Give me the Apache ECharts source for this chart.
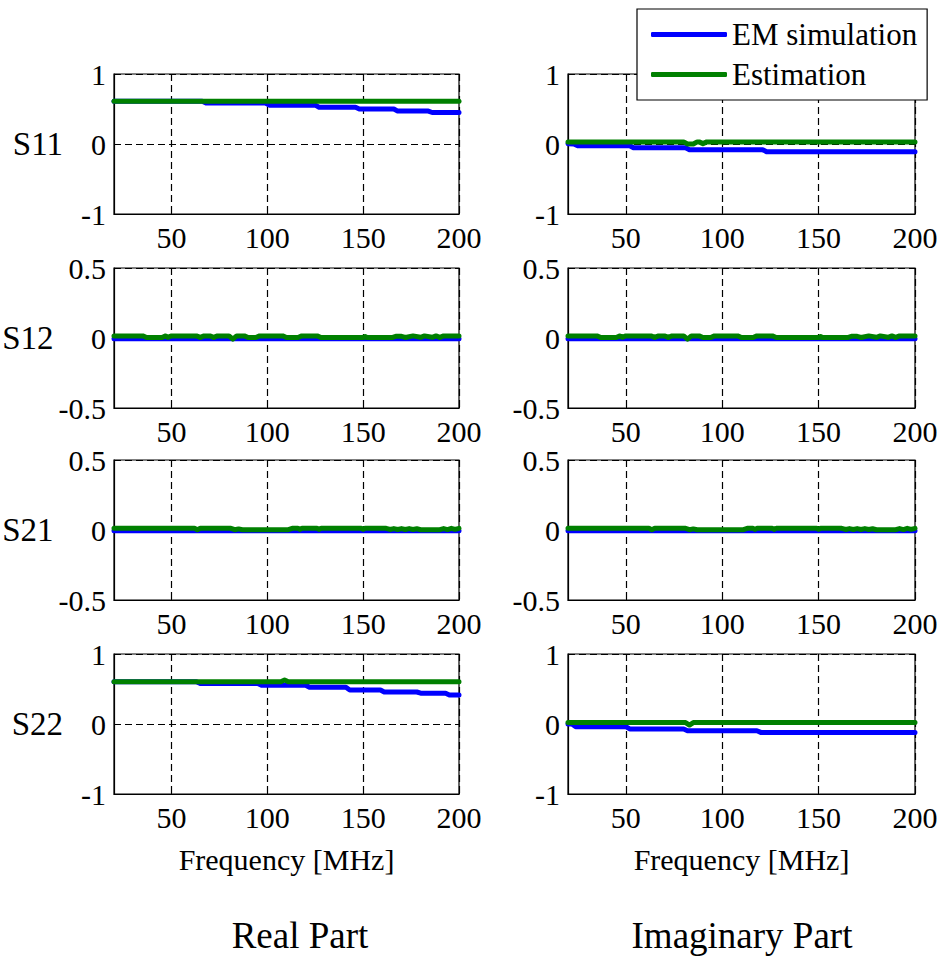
<!DOCTYPE html>
<html>
<head>
<meta charset="utf-8">
<script src="https://cdn.jsdelivr.net/npm/echarts@6/dist/echarts.min.js"></script>
<style>html,body{margin:0;padding:0;background:#fff}#c{width:943px;height:956px}</style>
</head>
<body>
<div id="c"></div>
<script>
// ---- data (frequency [MHz], value) ----
const freqTicks = [50, 100, 150, 200];
const rowLabels = ['S11', 'S12', 'S21', 'S22'];
const colTitles = ['Real Part', 'Imaginary Part'];
const seriesNames = ['EM simulation', 'Estimation'];

const s11ReEM = [[20,0.61],[66,0.61],[68,0.585],[99,0.585],[101,0.555],[125,0.555],[127,0.525],[146,0.525],[148,0.5],[166,0.5],[168,0.47],[184,0.47],[186,0.45],[200,0.45]];
const s11ReEst = [[20,0.61],[200,0.61]];
const s11ImEM = [[20,0.005],[23,0.0],[25,-0.024],[52,-0.024],[54,-0.053],[81,-0.053],[83,-0.081],[121,-0.081],[123,-0.11],[200,-0.11]];
const s11ImEst = [[20,0.03],[80,0.03],[82,0.0],[85,0.0],[87,0.03],[88,0.03],[90,0.005],[92,0.03],[200,0.03]];

const s12ReEM = [[20,-0.006],[200,-0.006]];
const s12ReEst = [[20,0.015],[35,0.015],[37,0.003],[45,0.003],[47,0.015],[48,0.005],[50,0.015],[63,0.015],[65,0.004],[67,0.015],[70,0.015],[72,0.004],[74,0.015],[80,0.015],[82,-0.008],[84,0.015],[88,0.015],[90,0.003],[94,0.003],[96,0.015],[108,0.015],[110,0.003],[116,0.003],[118,0.015],[126,0.015],[128,0.003],[150,0.003],[151,0.01],[152,0.003],[165,0.003],[167,0.012],[170,0.012],[172,0.004],[176,0.015],[180,0.005],[182,0.015],[186,0.005],[188,0.015],[190,0.004],[192,0.015],[200,0.015]];
const s12ImEM = [[20,-0.006],[200,-0.006]];
const s12ImEst = [[20,0.015],[35,0.015],[37,0.003],[45,0.003],[47,0.015],[48,0.005],[50,0.015],[63,0.015],[65,0.004],[67,0.015],[70,0.015],[72,0.004],[74,0.015],[80,0.015],[82,-0.008],[84,0.015],[88,0.015],[90,0.003],[94,0.003],[96,0.015],[108,0.015],[110,0.003],[116,0.003],[118,0.015],[126,0.015],[128,0.003],[150,0.003],[151,0.01],[152,0.003],[165,0.003],[167,0.012],[170,0.012],[172,0.004],[176,0.015],[180,0.005],[182,0.015],[186,0.005],[188,0.015],[190,0.004],[192,0.015],[200,0.015]];

const s21ReEM = [[20,-0.006],[200,-0.006]];
const s21ReEst = [[20,0.012],[62,0.012],[63.5,0.002],[65,0.012],[81,0.012],[83,0.002],[85,0.008],[87,0.002],[111,0.002],[113,0.012],[116,0.012],[117,0.004],[118,0.012],[126,0.012],[127,0.004],[128,0.012],[149,0.012],[150,0.005],[151,0.012],[162,0.012],[164,0.004],[166,0.01],[168,0.004],[170,0.01],[172,0.004],[174,0.01],[176,0.004],[178,0.009],[180,0.002],[190,0.002],[192,0.01],[194,0.003],[196,0.012],[198,0.005],[200,0.012]];
const s21ImEM = [[20,-0.006],[200,-0.006]];
const s21ImEst = [[20,0.012],[62,0.012],[63.5,0.002],[65,0.012],[81,0.012],[83,0.002],[85,0.008],[87,0.002],[111,0.002],[113,0.012],[116,0.012],[117,0.004],[118,0.012],[126,0.012],[127,0.004],[128,0.012],[149,0.012],[150,0.005],[151,0.012],[162,0.012],[164,0.004],[166,0.01],[168,0.004],[170,0.01],[172,0.004],[174,0.01],[176,0.004],[178,0.009],[180,0.002],[190,0.002],[192,0.01],[194,0.003],[196,0.012],[198,0.005],[200,0.012]];

const s22ReEM = [[20,0.605],[63,0.605],[65,0.58],[95,0.58],[97,0.553],[120,0.553],[122,0.524],[141,0.524],[143,0.486],[159,0.486],[161,0.457],[178,0.457],[180,0.44],[193,0.44],[195,0.414],[200,0.414]];
const s22ReEst = [[20,0.605],[107,0.605],[109,0.63],[111,0.605],[200,0.605]];
const s22ImEM = [[20,0.0],[22,0.0],[24,-0.038],[50,-0.038],[52,-0.07],[80,-0.07],[82,-0.096],[118,-0.096],[120,-0.12],[200,-0.12]];
const s22ImEst = [[20,0.02],[81,0.02],[83,-0.015],[85,0.02],[200,0.02]];

const yRanges = [[-1,1,1],[-0.5,0.5,0.5],[-0.5,0.5,0.5],[-1,1,1]];
const panels = [
  [[s11ReEM, s11ReEst], [s11ImEM, s11ImEst]],
  [[s12ReEM, s12ReEst], [s12ImEM, s12ImEst]],
  [[s21ReEM, s21ReEst], [s21ImEM, s21ImEst]],
  [[s22ReEM, s22ReEst], [s22ImEM, s22ImEst]]
];

// ---- layout ----
const FONT = 'Liberation Serif';
const colLeft = [114, 568];
const colWidth = [345, 347];
const rowTop = [74, 268, 460, 654];
const rowHeight = 140;
const colors = ['#0000ff', '#008000'];

const grids = [], xAxes = [], yAxes = [], series = [];
let gi = 0;
for (let r = 0; r < 4; r++) {
  for (let c = 0; c < 2; c++) {
    grids.push({left: colLeft[c], top: rowTop[r], width: colWidth[c], height: rowHeight,
      show: true, borderColor: '#000', borderWidth: 1.2, backgroundColor: '#fff'});
    xAxes.push({
      type: 'value', gridIndex: gi, min: 20, max: 200,
      axisLine: {show: true, onZero: false, lineStyle: {color: '#000', width: 1.2}},
      axisTick: {show: true, inside: true, length: 5, customValues: freqTicks, lineStyle: {color: '#000'}},
      axisLabel: {customValues: freqTicks, color: '#000', fontSize: 30, fontFamily: FONT, margin: 8},
      splitLine: {show: true, lineStyle: {color: '#000', type: [7, 4], width: 1.2}},
      name: r === 3 ? 'Frequency [MHz]' : '',
      nameLocation: 'middle', nameGap: 50,
      nameTextStyle: {color: '#000', fontSize: 30, fontFamily: FONT}
    });
    const yr = yRanges[r];
    yAxes.push({
      type: 'value', gridIndex: gi, min: yr[0], max: yr[1], interval: yr[2],
      axisLine: {show: true, onZero: false, lineStyle: {color: '#000', width: 1.2}},
      axisTick: {show: true, inside: true, length: 5, lineStyle: {color: '#000'}},
      axisLabel: {color: '#000', fontSize: 30, fontFamily: FONT, margin: 8},
      splitLine: {show: true, lineStyle: {color: '#000', type: [7, 4], width: 1.2}},
      name: c === 0 ? rowLabels[r] : '',
      nameLocation: 'middle', nameRotate: 0, nameGap: 51,
      nameTextStyle: {color: '#000', fontSize: 33, fontFamily: FONT}
    });
    const pair = panels[r][c];
    for (let s = 0; s < 2; s++) {
      series.push({
        type: 'line', name: seriesNames[s], xAxisIndex: gi, yAxisIndex: gi,
        data: pair[s], showSymbol: false, symbol: 'none', animation: false,
        lineStyle: {color: colors[s], width: 5, cap: 'round', join: 'round'},
        itemStyle: {color: colors[s]}, z: 2 + s
      });
    }
    gi++;
  }
}

const chart = echarts.init(document.getElementById('c'), null, {renderer: 'svg'});
chart.setOption({
  backgroundColor: '#fff',
  animation: false,
  textStyle: {fontFamily: FONT},
  title: [
    {text: colTitles[0], left: 295, top: 912, textAlign: 'center', textStyle: {fontSize: 37, fontWeight: 'normal', color: '#000', fontFamily: FONT}},
    {text: colTitles[1], left: 737, top: 912, textAlign: 'center', textStyle: {fontSize: 37, fontWeight: 'normal', color: '#000', fontFamily: FONT}}
  ],
  legend: {
    data: seriesNames, orient: 'vertical', left: 637, top: 9,
    icon: 'roundRect', itemWidth: 76, itemHeight: 5, itemGap: 9,
    padding: [10, 10, 10, 14],
    backgroundColor: '#fff', borderColor: '#000', borderWidth: 1.2,
    textStyle: {fontSize: 31, color: '#000', fontFamily: FONT},
    selectedMode: false, z: 10
  },
  grid: grids, xAxis: xAxes, yAxis: yAxes, series: series
});
</script>
</body>
</html>
